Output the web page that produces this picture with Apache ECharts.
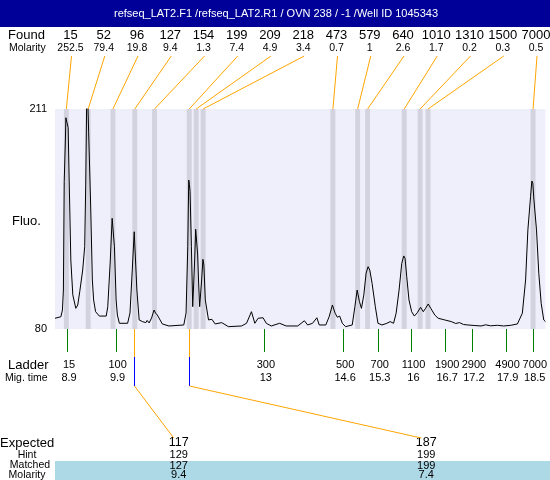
<!DOCTYPE html>
<html><head><meta charset="utf-8">
<script src="https://cdn.jsdelivr.net/npm/echarts/dist/echarts.min.js"></script>
<style>html,body{margin:0;padding:0;background:#fff}#c{width:550px;height:480px}</style>
</head><body><div id="c"></div>
<script>
const titleText = 'refseq_LAT2.F1 /refseq_LAT2.R1 / OVN 238 / -1 /Well ID 1045343';
const foundSizes = ['15','52','96','127','154','199','209','218','473','579','640','1010','1310','1500','7000'];
const foundMolarity = ['252.5','79.4','19.8','9.4','1.3','7.4','4.9','3.4','0.7','1','2.6','1.7','0.2','0.3','0.5'];
const foundTimes = [8.875, 9.325, 9.835, 10.285, 10.693, 11.408, 11.551, 11.694, 14.370, 14.880, 15.085, 15.840, 16.167, 16.331, 18.496];
const ladderSizes = ['15','100','300','500','700','1100','1900','2900','4900','7000'];
const ladderTimes = [8.9, 9.9, 12.956, 14.59, 15.305, 16.0, 16.694, 17.246, 17.94, 18.5];
const ladderTimeLabels = ['8.9','9.9','13','14.6','15.3','16','16.7','17.2','17.9','18.5'];
const expectedSizes = ['117','187'];
const hintSizes = ['129','199'];
const matchedSizes = ['127','199'];
const matchedMolarity = ['9.4','7.4'];
const matchedTimes = [10.285, 11.408];
const yTicks = [80, 211];
const signalTrace = [
[8.641,86.4],[8.763,87.3],[8.794,91.3],[8.814,103.2],[8.831,167.7],[8.857,194.3],[8.865,205.8],[8.906,205.6],[8.912,199.9],[8.927,177.7],
[8.967,121.1],[9.008,100.3],[9.070,92.3],[9.110,94.3],[9.151,102.2],[9.212,115.1],[9.253,129.0],[9.274,165.7],[9.294,215],[9.315,218],
[9.335,196.8],[9.376,153.8],[9.411,109.2],[9.437,97.3],[9.478,90.3],[9.555,87.7],[9.697,87.7],[9.729,93.3],[9.778,119.3],[9.819,145.9],
[9.846,144.9],[9.866,129.0],[9.901,97.3],[9.927,88.3],[9.968,83.4],[10.138,83.4],[10.187,89.5],[10.234,115.1],[10.274,137.9],[10.309,137.0],
[10.329,103.2],[10.376,85.4],[10.444,84.4],[10.514,83.8],[10.540,85.1],[10.581,83.6],[10.632,86.6],[10.683,91.3],[10.714,89.5],[10.751,88.3],
[10.785,87.7],[10.853,83.0],[10.990,81.8],[11.296,82.4],[11.343,89.5],[11.378,129.0],[11.392,156.8],[11.398,168.7],[11.412,166.0],[11.425,161.8],
[11.453,129.0],[11.480,93.3],[11.520,121.1],[11.541,139.4],[11.561,139.4],[11.582,124.1],[11.602,107.4],[11.623,93.3],[11.664,109.2],[11.690,121.5],
[11.710,118.1],[11.739,97.3],[11.806,85.4],[11.874,85.8],[11.943,83.0],[12.078,83.8],[12.215,81.4],[12.487,81.8],[12.589,83.4],[12.691,90.3],
[12.760,83.4],[12.828,86.4],[12.869,86.0],[12.930,86.7],[12.997,83.4],[13.099,81.8],[13.271,83.4],[13.406,81.8],[13.645,81.8],[13.782,84.9],
[13.849,82.4],[13.951,83.4],[14.039,86.7],[14.088,82.4],[14.223,82.4],[14.292,87.3],[14.360,94.3],[14.415,89.4],[14.462,87.0],[14.509,87.7],
[14.564,83.4],[14.631,81.4],[14.768,82.4],[14.823,93.3],[14.870,103.2],[14.917,96.3],[14.958,92.3],[15.007,100.3],[15.054,113.2],[15.095,117.1],
[15.130,115.1],[15.177,107.2],[15.244,93.3],[15.299,83.4],[15.381,82.4],[15.483,83.4],[15.550,84.4],[15.620,83.4],[15.673,89.4],[15.734,103.2],
[15.789,119.1],[15.830,123.5],[15.857,122.1],[15.892,111.1],[15.938,97.3],[15.993,90.3],[16.049,87.7],[16.110,89.7],[16.177,92.9],[16.233,90.3],
[16.280,92.3],[16.335,94.9],[16.388,92.3],[16.470,88.3],[16.539,86.4],[16.674,85.4],[16.811,84.4],[16.900,83.3],[16.980,83.8],[17.060,82.7],
[17.152,82.4],[17.280,82.1],[17.423,81.8],[17.520,82.5],[17.620,81.9],[17.764,82.2],[17.890,81.8],[18.036,82.2],[18.173,83.0],[18.275,89.4],
[18.342,109.2],[18.389,139.0],[18.444,158.8],[18.471,168.1],[18.491,166.9],[18.512,157.4],[18.532,156.4],[18.567,139.0],[18.614,113.2],[18.663,95.3],
[18.716,85.4],[18.751,84.4]
];

const FONT = '"Liberation Sans", Arial, sans-serif';
const f = s => s + 'px ' + FONT;
const chart = echarts.init(document.getElementById('c'));
const GL = 55, GT = 109, GW = 495, GH = 220;

chart.setOption({
  animation: false,
  grid: { left: GL, top: GT, width: GW, height: GH, show: true, backgroundColor: '#EFEFFB', borderWidth: 0 },
  xAxis: {
    type: 'value', min: 8.641, max: 18.751,
    splitLine: { show: false }, axisLine: { show: false }, axisTick: { show: false },
    axisLabel: {
      customValues: ladderTimes, margin: 29, color: '#000', fontFamily: FONT, padding: [0, 0, 0, 3],
      formatter: v => { const i = ladderTimes.indexOf(v); return i < 0 ? '' : '{s|' + ladderSizes[i] + '}\n{m|' + ladderTimeLabels[i] + '}'; },
      rich: { s: { fontSize: 11, lineHeight: 13, fontFamily: FONT, color: '#000' }, m: { fontSize: 11, lineHeight: 13, fontFamily: FONT, color: '#000' } }
    }
  },
  yAxis: {
    type: 'value', min: 80, max: 211,
    splitLine: { show: false }, axisLine: { show: false }, axisTick: { show: false },
    axisLabel: { customValues: yTicks, fontSize: 11, fontFamily: FONT, color: '#000', margin: 8 }
  },
  series: [
    {
      type: 'custom', z: 1, silent: true,
      data: foundTimes.map(t => [t]),
      renderItem: (params, api) => {
        const t = api.value(0);
        const a = api.coord([t - 0.051, 211]);
        const b = api.coord([t + 0.051, 80]);
        return { type: 'rect', shape: { x: a[0], y: a[1], width: b[0] - a[0], height: b[1] - a[1] }, style: { fill: '#D3D3E0' } };
      }
    },
    {
      type: 'line', z: 3, data: signalTrace, showSymbol: false, symbol: 'none', clip: true,
      lineStyle: { color: '#000', width: 1 }
    }
  ]
});

const col = v => Math.floor(v);
const vbar = (x, y1, y2, color) => ({ type: 'rect', shape: { x: x, y: y1, width: 1, height: y2 - y1 }, style: { fill: color }, z: 12 });
const g = [];
// title bar
g.push({ type: 'rect', shape: { x: 0, y: 0, width: 550, height: 27 }, style: { fill: '#000099' }, z: 10 });
g.push({ type: 'text', style: { text: titleText, x: 276, y: 14, align: 'center', verticalAlign: 'middle', font: f(11), fill: '#fff' }, z: 11 });
// found rows
g.push({ type: 'text', style: { text: 'Found', x: 8, y: 35, verticalAlign: 'middle', font: f(13), fill: '#000' }, z: 11 });
g.push({ type: 'text', style: { text: 'Molarity', x: 9, y: 48, verticalAlign: 'middle', font: f(10.5), fill: '#000' }, z: 11 });
foundSizes.forEach((s, i) => {
  const fx = 70.5 + 33.25 * i;
  g.push({ type: 'text', style: { text: s, x: fx, y: 35, align: 'center', verticalAlign: 'middle', font: f(13), fill: '#000' }, z: 11 });
  g.push({ type: 'text', style: { text: foundMolarity[i], x: fx, y: 48, align: 'center', verticalAlign: 'middle', font: f(10.5), fill: '#000' }, z: 11 });
  const p = chart.convertToPixel({ gridIndex: 0 }, [foundTimes[i], 211]);
  g.push({ type: 'line', shape: { x1: fx + 1, y1: 56, x2: p[0], y2: GT }, style: { stroke: '#FFA500', lineWidth: 1 }, z: 11 });
});
// ladder ticks
ladderTimes.forEach(t => {
  const px = col(chart.convertToPixel({ gridIndex: 0 }, [t, 80])[0]);
  g.push(vbar(px, GT + GH, 352, '#008000'));
});
// left labels
g.push({ type: 'text', style: { text: 'Fluo.', x: 12, y: 221, verticalAlign: 'middle', font: f(13), fill: '#000' }, z: 11 });
g.push({ type: 'text', style: { text: 'Ladder', x: 8, y: 365, verticalAlign: 'middle', font: f(13), fill: '#000' }, z: 11 });
g.push({ type: 'text', style: { text: 'Mig. time', x: 5, y: 378, verticalAlign: 'middle', font: f(10.5), fill: '#000' }, z: 11 });
// expected table
g.push({ type: 'rect', shape: { x: 55, y: 461, width: 495, height: 19 }, style: { fill: '#ADD8E6' }, z: 10 });
g.push({ type: 'text', style: { text: 'Expected', x: 0, y: 443, verticalAlign: 'middle', font: f(13), fill: '#000' }, z: 11 });
g.push({ type: 'text', style: { text: 'Hint', x: 27, y: 455, align: 'center', verticalAlign: 'middle', font: f(10.5), fill: '#000' }, z: 11 });
g.push({ type: 'text', style: { text: 'Matched', x: 30, y: 465.5, align: 'center', verticalAlign: 'middle', font: f(10.5), fill: '#000' }, z: 11 });
g.push({ type: 'text', style: { text: 'Molarity', x: 27, y: 475, align: 'center', verticalAlign: 'middle', font: f(10.5), fill: '#000' }, z: 11 });
const colW = GW / expectedSizes.length;
expectedSizes.forEach((s, i) => {
  const cx = GL + colW * (i + 0.5);
  const px = col(chart.convertToPixel({ gridIndex: 0 }, [matchedTimes[i], 80])[0]);
  g.push(vbar(px, GT + GH, 357, '#FFA500'));
  g.push(vbar(px, 357, 386, '#0000FF'));
  g.push({ type: 'line', shape: { x1: px + 0.5, y1: 386, x2: cx - 5, y2: 438 }, style: { stroke: '#FFA500', lineWidth: 1 }, z: 12 });
  g.push({ type: 'text', style: { text: s, x: cx, y: 443, align: 'center', verticalAlign: 'middle', font: f(12.5), fill: '#000' }, z: 11 });
  g.push({ type: 'text', style: { text: hintSizes[i], x: cx, y: 455, align: 'center', verticalAlign: 'middle', font: f(11), fill: '#000' }, z: 11 });
  g.push({ type: 'text', style: { text: matchedSizes[i], x: cx, y: 465.5, align: 'center', verticalAlign: 'middle', font: f(11), fill: '#000' }, z: 11 });
  g.push({ type: 'text', style: { text: matchedMolarity[i], x: cx, y: 475, align: 'center', verticalAlign: 'middle', font: f(11), fill: '#000' }, z: 11 });
});
chart.setOption({ graphic: g });
</script></body></html>
